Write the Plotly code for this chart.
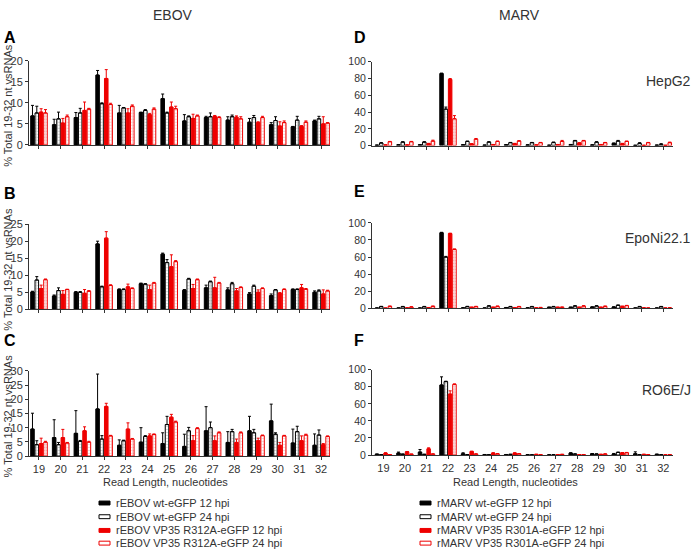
import plotly.graph_objects as go

W, H = 696, 555

categories = [19, 20, 21, 22, 23, 24, 25, 26, 27, 28, 29, 30, 31, 32]

ebov_names = ["rEBOV wt-eGFP 12 hpi", "rEBOV wt-eGFP 24 hpi",
              "rEBOV VP35 R312A-eGFP 12 hpi", "rEBOV VP35 R312A-eGFP 24 hpi"]
marv_names = ["rMARV wt-eGFP 12 hpi", "rMARV wt-eGFP 24 hpi",
              "rMARV VP35 R301A-eGFP 12 hpi", "rMARV VP35 R301A-eGFP 24 hpi"]

# Panel A (EBOV, HepG2)
A_wt12 = [6.9, 4.8, 6.5, 16.6, 7.6, 7.7, 11.0, 5.7, 6.5, 5.9, 5.4, 4.8, 4.3, 5.7]
A_wt12_err = [2.5, 1.3, 1.2, 1.1, 1.8, 0.1, 1.1, 1.5, 0.3, 0.8, 0.9, 0.5, 0.1, 0.2]
A_wt24 = [7.6, 6.2, 7.6, 9.8, 8.8, 8.2, 7.6, 6.7, 6.7, 6.7, 6.5, 5.8, 5.9, 6.2]
A_wt24_err = [1.6, 1.6, 1.1, 0.2, 0.1, 0.2, 0.2, 0.2, 0.9, 0.4, 0.5, 0.9, 0.9, 0.6]
A_mu12 = [7.8, 5.2, 8.2, 15.8, 7.6, 7.2, 9.0, 6.3, 6.8, 6.6, 5.3, 4.5, 4.4, 5.0]
A_mu12_err = [0.8, 1.1, 2.0, 2.1, 1.0, 0.3, 1.2, 1.0, 0.2, 0.3, 0.2, 1.0, 0.2, 1.7]
A_mu24 = [7.6, 6.7, 8.5, 9.6, 9.2, 8.5, 8.6, 6.9, 6.5, 6.2, 6.5, 5.3, 5.4, 5.2]
A_mu24_err = [0.8, 0.4, 0.2, 0.3, 0.3, 0.3, 0.6, 0.2, 0.2, 0.5, 0.3, 0.4, 0.3, 0.1]

# Panel B (EBOV, EpoNi22.1)
B_wt12 = [5.1, 3.9, 5.0, 19.2, 5.8, 7.5, 16.2, 5.6, 6.3, 5.7, 4.5, 4.0, 5.8, 5.0]
B_wt12_err = [0.2, 0.3, 0.2, 0.8, 0.2, 0.2, 0.3, 0.2, 0.8, 0.6, 0.4, 0.5, 0.2, 0.4]
B_wt24 = [8.6, 5.5, 5.0, 6.6, 5.8, 7.4, 13.7, 8.9, 8.1, 7.5, 6.8, 5.7, 5.8, 5.4]
B_wt24_err = [1.0, 0.8, 0.2, 0.2, 0.2, 0.1, 0.9, 0.2, 0.2, 0.4, 0.3, 0.1, 0.2, 0.3]
B_mu12 = [6.1, 4.4, 4.7, 20.9, 6.6, 5.8, 12.5, 6.1, 6.3, 5.4, 5.0, 4.7, 6.3, 4.5]
B_mu12_err = [1.0, 1.1, 1.1, 1.9, 0.8, 1.3, 3.5, 1.2, 3.1, 0.7, 0.7, 0.2, 1.0, 1.2]
B_mu24 = [8.7, 5.8, 5.3, 7.0, 6.1, 7.7, 14.0, 8.7, 7.7, 6.4, 6.1, 5.8, 5.9, 5.4]
B_mu24_err = [0.2, 0.1, 0.2, 0.2, 0.2, 0.2, 0.3, 0.2, 0.2, 0.2, 0.2, 0.2, 0.2, 0.2]

# Panel C (EBOV, RO6E/J)
C_wt12 = [9.5, 6.5, 8.0, 16.6, 3.8, 4.9, 4.4, 3.4, 8.9, 4.8, 8.9, 12.4, 4.6, 3.8]
C_wt12_err = [5.6, 6.3, 8.0, 12.3, 1.9, 5.1, 3.8, 4.3, 8.5, 3.8, 5.1, 5.9, 4.9, 4.0]
C_wt24 = [4.0, 4.0, 5.2, 6.0, 5.4, 6.9, 11.1, 8.9, 10.0, 8.6, 8.2, 7.7, 8.6, 7.4]
C_wt24_err = [1.4, 0.8, 0.3, 1.2, 0.2, 0.3, 2.9, 1.2, 2.0, 0.8, 1.2, 0.5, 1.9, 1.8]
C_mu12 = [4.4, 6.5, 8.9, 17.5, 9.5, 7.1, 13.7, 5.4, 5.4, 4.8, 5.4, 3.8, 5.4, 4.0]
C_mu12_err = [1.9, 2.9, 1.4, 1.1, 2.2, 0.7, 1.0, 1.8, 1.7, 1.2, 0.9, 1.0, 1.7, 0.4]
C_mu24 = [4.9, 4.6, 4.9, 7.1, 6.0, 7.6, 12.0, 9.7, 8.2, 8.2, 7.2, 7.1, 7.4, 6.9]
C_mu24_err = [0.3, 0.2, 0.3, 0.2, 0.2, 0.2, 0.3, 0.3, 0.3, 0.3, 0.2, 0.2, 0.3, 0.2]

# Panel D (MARV, HepG2)
D_wt12 = [0.5, 1.0, 1.0, 86.0, 1.0, 0.5, 1.0, 0.8, 0.4, 1.2, 0.8, 2.7, 0.3, 0.5]
D_wt12_err = [0.2, 0.2, 0.2, 0.5, 0.2, 0.2, 0.2, 0.2, 0.2, 0.2, 0.2, 0.4, 0.2, 0.2]
D_wt24 = [3.1, 4.2, 4.2, 43.5, 5.0, 4.2, 3.5, 3.5, 3.8, 5.8, 4.2, 5.4, 2.7, 1.5]
D_wt24_err = [0.4, 0.4, 0.4, 2.5, 0.4, 0.4, 0.3, 0.3, 0.4, 0.4, 0.4, 0.8, 0.8, 0.8]
D_mu12 = [0.8, 0.8, 2.3, 79.0, 2.0, 1.2, 2.3, 0.8, 1.2, 3.1, 1.2, 2.3, 0.3, 0.3]
D_mu12_err = [0.2, 0.2, 0.4, 1.0, 0.3, 0.2, 0.4, 0.2, 0.2, 0.4, 0.2, 0.4, 0.2, 0.2]
D_mu24 = [4.6, 4.6, 5.4, 32.0, 7.7, 5.0, 5.4, 3.5, 5.0, 5.8, 3.5, 5.0, 3.5, 3.5]
D_mu24_err = [0.4, 0.4, 1.1, 3.8, 0.8, 0.4, 0.6, 0.3, 1.2, 0.4, 0.3, 0.4, 0.3, 0.7]

# Panel E (MARV, EpoNi22.1)
E_wt12 = [0.3, 0.3, 0.3, 88.5, 0.5, 0.3, 0.8, 0.5, 1.2, 1.2, 1.5, 1.5, 0.3, 0.3]
E_wt12_err = [0.2, 0.2, 0.2, 0.5, 0.2, 0.2, 0.2, 0.2, 0.2, 0.2, 0.2, 0.2, 0.2, 0.2]
E_wt24 = [2.0, 1.9, 1.9, 60.0, 2.0, 2.7, 1.9, 1.9, 1.9, 2.7, 2.7, 3.5, 1.9, 1.9]
E_wt24_err = [0.35, 0.35, 0.35, 0.8, 0.35, 0.35, 0.35, 0.35, 0.35, 0.35, 0.35, 0.35, 0.35, 0.35]
E_mu12 = [0.2, 0.5, 0.8, 87.5, 1.2, 1.2, 0.8, 0.5, 1.2, 1.2, 1.2, 2.3, 0.5, 0.3]
E_mu12_err = [0.2, 0.2, 0.2, 0.5, 0.2, 0.2, 0.2, 0.2, 0.2, 0.2, 0.2, 0.2, 0.2, 0.2]
E_mu24 = [2.3, 1.5, 2.3, 69.0, 2.0, 2.3, 1.9, 0.8, 1.2, 2.7, 2.3, 3.1, 0.3, 0.5]
E_mu24_err = [0.35, 0.35, 0.35, 0.5, 0.35, 0.35, 0.35, 0.35, 0.35, 0.35, 0.35, 0.35, 0.2, 0.2]

# Panel F (MARV, RO6E/J)
F_wt12 = [1.0, 2.3, 3.5, 82.0, 1.5, 0.5, 0.5, 0.3, 0.2, 2.3, 1.5, 1.2, 1.5, 0.8]
F_wt12_err = [0.2, 1.2, 3.0, 9.6, 1.2, 0.2, 0.2, 0.1, 0.1, 0.4, 0.3, 0.7, 2.3, 0.4]
F_wt24 = [0.5, 1.0, 0.8, 86.0, 0.5, 0.3, 0.8, 0.2, 0.3, 1.2, 1.2, 3.1, 0.3, 0.3]
F_wt24_err = [0.1, 0.2, 0.2, 0.5, 0.1, 0.1, 0.2, 0.1, 0.1, 0.2, 0.2, 0.4, 0.1, 0.1]
F_mu12 = [2.3, 3.8, 7.3, 71.4, 4.2, 2.3, 2.3, 0.8, 0.5, 0.5, 0.8, 2.7, 0.8, 0.2]
F_mu12_err = [0.4, 0.4, 1.2, 3.8, 0.4, 0.4, 0.4, 0.2, 0.1, 0.1, 0.2, 0.3, 0.2, 0.1]
F_mu24 = [0.5, 1.0, 1.2, 82.8, 1.2, 1.5, 1.5, 0.5, 0.8, 0.5, 1.2, 2.7, 0.5, 0.5]
F_mu24_err = [0.1, 0.2, 0.2, 0.5, 0.2, 0.2, 0.2, 0.1, 0.1, 0.1, 0.2, 0.4, 0.1, 0.1]

panel_letters = ["A", "B", "C", "D", "E", "F"]
column_titles = ["EBOV", "MARV"]
cell_lines = ["HepG2", "EpoNi22.1", "RO6E/J"]
y_title = "% Total 19-32 nt vsRNAs"
x_title = "Read Length, nucleotides"

FONT = "Liberation Sans, Arial, sans-serif"
TXT = "#333333"
RED = "#ee0000"

styles = [
    dict(color="black", line=dict(color="black", width=1)),
    dict(color="white", line=dict(color="black", width=1),
         pattern=dict(shape="+", fgcolor="#888888", bgcolor="white", size=3, solidity=0.4)),
    dict(color=RED, line=dict(color=RED, width=1)),
    dict(color="white", line=dict(color=RED, width=1),
         pattern=dict(shape="+", fgcolor="#f08080", bgcolor="white", size=3, solidity=0.4)),
]
err_colors = ["black", "black", RED, RED]

panels = [
    ([A_wt12, A_wt24, A_mu12, A_mu24], [A_wt12_err, A_wt24_err, A_mu12_err, A_mu24_err]),
    ([B_wt12, B_wt24, B_mu12, B_mu24], [B_wt12_err, B_wt24_err, B_mu12_err, B_mu24_err]),
    ([C_wt12, C_wt24, C_mu12, C_mu24], [C_wt12_err, C_wt24_err, C_mu12_err, C_mu24_err]),
    ([D_wt12, D_wt24, D_mu12, D_mu24], [D_wt12_err, D_wt24_err, D_mu12_err, D_mu24_err]),
    ([E_wt12, E_wt24, E_mu12, E_mu24], [E_wt12_err, E_wt24_err, E_mu12_err, E_mu24_err]),
    ([F_wt12, F_wt24, F_mu12, F_mu24], [F_wt12_err, F_wt24_err, F_mu12_err, F_mu24_err]),
]

# pixel geometry: (x_left, x_right, y_zero_px, y_top_px, y_max, dtick, x_range)
geom = [
    (29, 330, 142, 56, 20, 5, [18.54, 32.41]),
    (29, 330, 310, 223, 25, 5, [18.54, 32.41]),
    (29, 330, 460, 373, 30, 5, [18.54, 32.41]),
    (372, 673, 142.7, 57, 100, 20, [18.47, 32.45]),
    (372, 673, 309, 221.7, 100, 20, [18.47, 32.45]),
    (372, 673, 459, 371.7, 100, 20, [18.47, 32.45]),
]

def px(x):
    return x / W

def py(y):
    return 1 - y / H

fig = go.Figure()
layout = {}
for i, ((series, errs), g) in enumerate(zip(panels, geom)):
    n = i + 1
    xa = "x" if n == 1 else f"x{n}"
    ya = "y" if n == 1 else f"y{n}"
    names = ebov_names if i < 3 else marv_names
    for k in range(4):
        fig.add_trace(go.Bar(
            x=categories, y=series[k], name=names[k], xaxis=xa, yaxis=ya,
            marker=styles[k], showlegend=False,
            error_y=dict(type="data", symmetric=False, array=errs[k],
                         arrayminus=[0] * len(errs[k]), color=err_colors[k],
                         thickness=1, width=1.5),
        ))
    xl, xr, y0, yt, ymax, dt, xr_range = g
    bottom = i in (2, 5)
    is_marv = i >= 3
    layout["xaxis" if n == 1 else f"xaxis{n}"] = dict(
        domain=[px(xl), px(xr)], anchor=ya, range=xr_range,
        tickmode="array", tickvals=categories,
        ticktext=[str(c) for c in categories] if bottom else [""] * 14,
        showticklabels=bottom, ticks="outside", ticklen=3, tickcolor="#333",
        showline=True, linecolor="#333", linewidth=1, showgrid=False, zeroline=False,
        tickfont=dict(size=11, color=TXT, family=FONT),
    )
    layout["yaxis" if n == 1 else f"yaxis{n}"] = dict(
        domain=[py(y0), py(yt)], anchor=xa, range=[0, ymax], dtick=dt,
        ticks="outside", ticklen=3, tickcolor="#333", showline=True, linecolor="#333",
        linewidth=1, showgrid=False, zeroline=False,
        tickfont=dict(size=10.5 if is_marv else 11, color=TXT, family=FONT),
    )

annotations = []
# column titles
for t, cx in zip(column_titles, [173, 519]):
    annotations.append(dict(text=t, x=px(cx), y=py(9), xref="paper", yref="paper",
                            showarrow=False, xanchor="center", yanchor="middle",
                            font=dict(size=14, color=TXT, family=FONT)))
# panel letters
letter_pos = [(2, 32), (2, 192), (2, 342), (352, 32), (352, 190), (352, 342)]
for L, (lx, ly) in zip(panel_letters, letter_pos):
    annotations.append(dict(text=f"<b>{L}</b>", x=px(lx), y=py(ly), xref="paper", yref="paper",
                            showarrow=False, xanchor="left", yanchor="middle",
                            font=dict(size=16, color="black", family=FONT)))
# y titles
for g in geom[:3]:
    cy = (g[2] + g[3]) / 2 + 3
    annotations.append(dict(text=y_title, x=px(8), y=py(cy), xref="paper", yref="paper",
                            textangle=-90, showarrow=False, xanchor="center", yanchor="middle",
                            font=dict(size=11, color=TXT, family=FONT)))
# cell line labels
for t, cy in zip(cell_lines, [77, 237, 392]):
    annotations.append(dict(text=t, x=px(693), y=py(cy), xref="paper", yref="paper",
                            showarrow=False, xanchor="right", yanchor="middle",
                            font=dict(size=14, color=TXT, family=FONT)))
# x titles
for cx in [165, 515]:
    annotations.append(dict(text=x_title, x=px(cx), y=py(487), xref="paper", yref="paper",
                            showarrow=False, xanchor="center", yanchor="middle",
                            font=dict(size=11, color=TXT, family=FONT)))

# legends
shapes = []
rows = [508, 522, 536, 549]
sw_fill = ["black", "white", RED, "white"]
sw_line = ["black", "black", RED, RED]
for names, sx in [(ebov_names, 99), (marv_names, 420)]:
    for k, (nm, ry) in enumerate(zip(names, rows)):
        shapes.append(dict(type="rect", xref="paper", yref="paper",
                           x0=px(sx), x1=px(sx + 11), y0=py(ry + 2), y1=py(ry - 2),
                           fillcolor=sw_fill[k], line=dict(color=sw_line[k], width=1)))
        annotations.append(dict(text=nm, x=px(sx + 15), y=py(ry), xref="paper", yref="paper",
                                showarrow=False, xanchor="left", yanchor="middle",
                                font=dict(size=11, color=TXT, family=FONT)))

fig.update_layout(
    width=W, height=H, autosize=False, margin=dict(l=0, r=0, t=0, b=0),
    paper_bgcolor="white", plot_bgcolor="white",
    barmode="group", bargap=0.2, bargroupgap=0.18,
    annotations=annotations, shapes=shapes, showlegend=False,
    font=dict(family=FONT, color=TXT),
    **layout,
)

fig.write_html(
    "out.html",
    config={"displayModeBar": False},
    post_script=(
        "document.documentElement.style.margin='0';"
        "document.documentElement.style.overflow='hidden';"
        "document.body.style.margin='0';document.body.style.padding='0';"
        "document.body.style.overflow='hidden';"
        "var gd=document.getElementById('{plot_id}');"
        "gd.style.position='fixed';gd.style.top='0px';gd.style.left='0px';"
    ),
)
